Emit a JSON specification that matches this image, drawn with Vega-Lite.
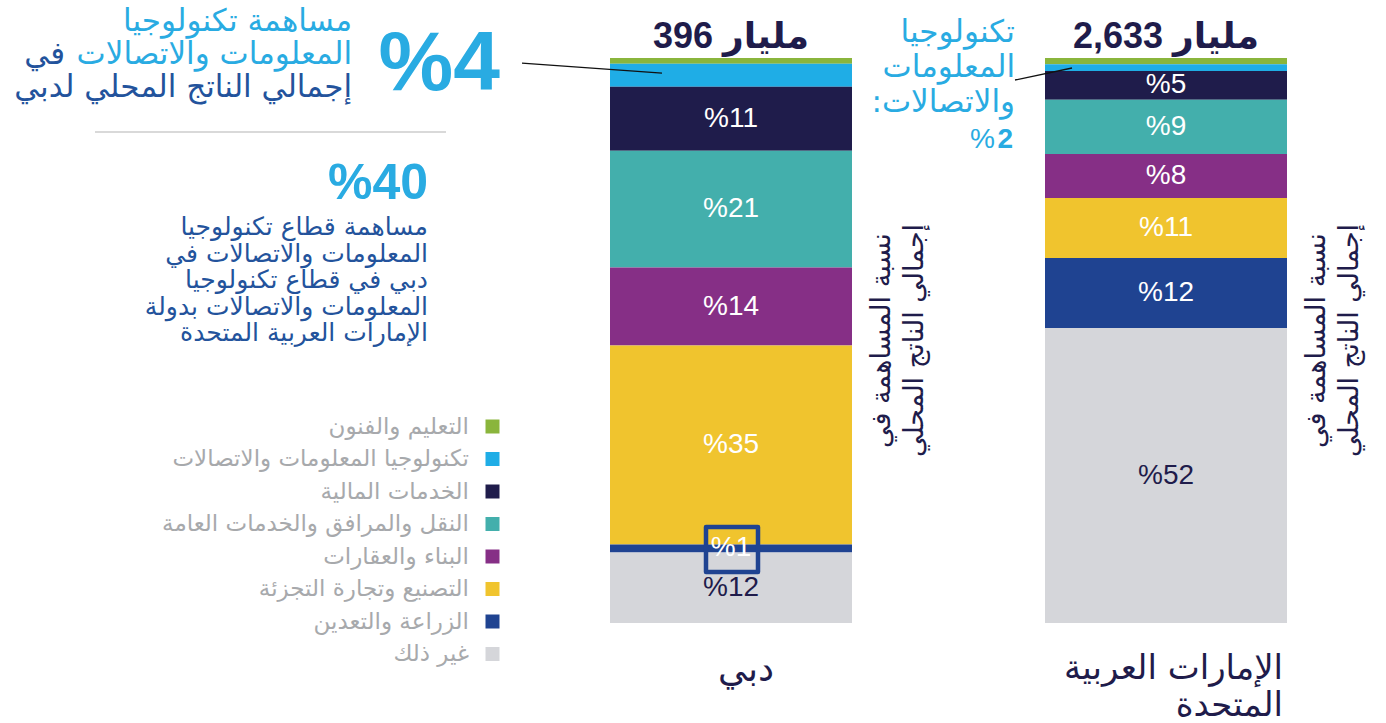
{
  "$schema": "https://vega.github.io/schema/vega-lite/v6.json",
  "width": 677,
  "height": 565,
  "autosize": {"type": "none"},
  "padding": {"left": 610, "top": 58, "right": 99, "bottom": 100},
  "background": "white",
  "config": {"view": {"stroke": null}},
  "datasets": {
    "gdp": [
      {"region": "دبي", "sector": "التعليم والفنون", "share": 1.0, "label": ""},
      {"region": "دبي", "sector": "تكنولوجيا المعلومات والاتصالات", "share": 4.1, "label": "%4"},
      {"region": "دبي", "sector": "الخدمات المالية", "share": 11.3, "label": "%11"},
      {"region": "دبي", "sector": "النقل والمرافق والخدمات العامة", "share": 20.7, "label": "%21"},
      {"region": "دبي", "sector": "البناء والعقارات", "share": 13.8, "label": "%14"},
      {"region": "دبي", "sector": "التصنيع وتجارة التجزئة", "share": 35.2, "label": "%35"},
      {"region": "دبي", "sector": "الزراعة والتعدين", "share": 1.4, "label": "%1"},
      {"region": "دبي", "sector": "غير ذلك", "share": 12.5, "label": "%12"},
      {"region": "الإمارات العربية المتحدة", "sector": "التعليم والفنون", "share": 1.1, "label": ""},
      {"region": "الإمارات العربية المتحدة", "sector": "تكنولوجيا المعلومات والاتصالات", "share": 1.2, "label": "%2"},
      {"region": "الإمارات العربية المتحدة", "sector": "الخدمات المالية", "share": 5.1, "label": "%5"},
      {"region": "الإمارات العربية المتحدة", "sector": "النقل والمرافق والخدمات العامة", "share": 9.6, "label": "%9"},
      {"region": "الإمارات العربية المتحدة", "sector": "البناء والعقارات", "share": 7.8, "label": "%8"},
      {"region": "الإمارات العربية المتحدة", "sector": "التصنيع وتجارة التجزئة", "share": 10.6, "label": "%11"},
      {"region": "الإمارات العربية المتحدة", "sector": "الزراعة والتعدين", "share": 12.4, "label": "%12"},
      {"region": "الإمارات العربية المتحدة", "sector": "غير ذلك", "share": 52.2, "label": "%52"}
    ],
    "regions": [
      {"region": "دبي", "gdp_bn": 396},
      {"region": "الإمارات العربية المتحدة", "gdp_bn": 2633}
    ],
    "notes": [
      {"id": "ict_dubai_light", "text": "مساهمة تكنولوجيا\nالمعلومات والاتصالات"},
      {"id": "ict_dubai_in", "text": "في"},
      {"id": "ict_dubai_dark", "text": "إجمالي الناتج المحلي لدبي"},
      {"id": "share40_value", "text": "%40"},
      {"id": "share40_text", "text": "مساهمة قطاع تكنولوجيا\nالمعلومات والاتصالات في\nدبي في قطاع تكنولوجيا\nالمعلومات والاتصالات بدولة\nالإمارات العربية المتحدة"},
      {"id": "ict_uae", "text": "تكنولوجيا\nالمعلومات\n\u2067والاتصالات:\u2069"},
      {"id": "divider", "text": ""}
    ]
  },
  "layer": [
    {
      "data": {"name": "gdp"},
      "transform": [
        {"calculate": "indexof(['التعليم والفنون','تكنولوجيا المعلومات والاتصالات','الخدمات المالية','النقل والمرافق والخدمات العامة','البناء والعقارات','التصنيع وتجارة التجزئة','الزراعة والتعدين','غير ذلك'], datum.sector)", "as": "rank"},
        {"stack": "share", "groupby": ["region"], "sort": [{"field": "rank", "order": "ascending"}], "as": ["y0", "y1"]}
      ],
      "mark": {"type": "bar"},
      "encoding": {
        "x": {
          "field": "region", "type": "nominal", "sort": null,
          "scale": {"domain": ["دبي", "الإمارات العربية المتحدة"], "paddingInner": 0.4437, "paddingOuter": 0},
          "axis": null
        },
        "y": {"field": "y0", "type": "quantitative", "scale": {"domain": [0, 100], "reverse": true, "nice": false, "zero": false}, "axis": null},
        "y2": {"field": "y1"},
        "color": {
          "field": "sector", "type": "nominal",
          "scale": {
            "domain": ["التعليم والفنون", "تكنولوجيا المعلومات والاتصالات", "الخدمات المالية", "النقل والمرافق والخدمات العامة", "البناء والعقارات", "التصنيع وتجارة التجزئة", "الزراعة والتعدين", "غير ذلك"],
            "range": ["#8ab53c", "#1fade6", "#1f1c4b", "#43afac", "#862f86", "#f0c42e", "#1f4391", "#d5d6da"]
          },
          "legend": {
            "orient": "none", "legendX": -129, "legendY": 357, "title": null,
            "symbolType": "square", "symbolSize": 196, "symbolStrokeWidth": 0, "symbolOpacity": 1,
            "labelFont": "DejaVu Sans", "labelFontSize": 23, "labelColor": "#a7a9ac",
            "labelAlign": "right", "labelBaseline": "middle", "labelOffset": -35, "labelLimit": 500,
            "rowPadding": 8.5, "padding": 0, "offset": 0
          }
        }
      }
    },
    {
      "data": {"name": "gdp"},
      "transform": [
        {"calculate": "indexof(['التعليم والفنون','تكنولوجيا المعلومات والاتصالات','الخدمات المالية','النقل والمرافق والخدمات العامة','البناء والعقارات','التصنيع وتجارة التجزئة','الزراعة والتعدين','غير ذلك'], datum.sector)", "as": "rank"},
        {"stack": "share", "groupby": ["region"], "sort": [{"field": "rank", "order": "ascending"}], "as": ["y0", "y1"]},
        {"calculate": "(datum.y0 + datum.y1) / 2", "as": "ymid"},
        {"filter": "datum.region === 'دبي' && datum.sector === 'الزراعة والتعدين'"}
      ],
      "mark": {"type": "point", "shape": "M-25,-21.4H27V23.6H-25Z", "size": 4, "filled": false, "color": "#1f4391", "strokeWidth": 4.5, "strokeJoin": "round", "opacity": 1},
      "encoding": {
        "x": {"field": "region", "type": "nominal", "axis": null},
        "y": {"field": "ymid", "type": "quantitative", "axis": null}
      }
    },
    {
      "data": {"name": "gdp"},
      "transform": [
        {"calculate": "indexof(['التعليم والفنون','تكنولوجيا المعلومات والاتصالات','الخدمات المالية','النقل والمرافق والخدمات العامة','البناء والعقارات','التصنيع وتجارة التجزئة','الزراعة والتعدين','غير ذلك'], datum.sector)", "as": "rank"},
        {"stack": "share", "groupby": ["region"], "sort": [{"field": "rank", "order": "ascending"}], "as": ["y0", "y1"]},
        {"calculate": "(datum.y0 + datum.y1) / 2", "as": "ymid"},
        {"filter": "datum.label !== '' && datum.sector !== 'تكنولوجيا المعلومات والاتصالات'"}
      ],
      "mark": {"type": "text", "font": "Liberation Sans", "fontSize": 28, "align": "center", "baseline": "middle"},
      "encoding": {
        "x": {"field": "region", "type": "nominal", "axis": null},
        "y": {"field": "ymid", "type": "quantitative", "axis": null},
        "text": {"field": "label", "type": "nominal"},
        "color": {"condition": {"test": "datum.sector === 'غير ذلك'", "value": "#1f1c4b"}, "value": "#ffffff"}
      }
    },
    {
      "data": {"name": "gdp"},
      "transform": [
        {"calculate": "indexof(['التعليم والفنون','تكنولوجيا المعلومات والاتصالات','الخدمات المالية','النقل والمرافق والخدمات العامة','البناء والعقارات','التصنيع وتجارة التجزئة','الزراعة والتعدين','غير ذلك'], datum.sector)", "as": "rank"},
        {"stack": "share", "groupby": ["region"], "sort": [{"field": "rank", "order": "ascending"}], "as": ["y0", "y1"]},
        {"calculate": "(datum.y0 + datum.y1) / 2", "as": "ymid"},
        {"filter": "datum.region === 'دبي' && datum.sector === 'تكنولوجيا المعلومات والاتصالات'"}
      ],
      "layer": [
        {
          "mark": {"type": "point", "shape": "M-209,-12.2L-69,-2.2", "size": 4, "filled": false, "color": "#111111", "strokeWidth": 1.3, "opacity": 1}
        },
        {
          "mark": {"type": "text", "font": "Liberation Sans", "fontWeight": "bold", "fontSize": 84, "align": "right", "baseline": "alphabetic", "dx": -231, "dy": 15, "color": "#29abe2"},
          "encoding": {"text": {"field": "label", "type": "nominal"}}
        }
      ],
      "encoding": {
        "x": {"field": "region", "type": "nominal", "axis": null},
        "y": {"field": "ymid", "type": "quantitative", "axis": null}
      }
    },
    {
      "data": {"name": "gdp"},
      "transform": [
        {"calculate": "indexof(['التعليم والفنون','تكنولوجيا المعلومات والاتصالات','الخدمات المالية','النقل والمرافق والخدمات العامة','البناء والعقارات','التصنيع وتجارة التجزئة','الزراعة والتعدين','غير ذلك'], datum.sector)", "as": "rank"},
        {"stack": "share", "groupby": ["region"], "sort": [{"field": "rank", "order": "ascending"}], "as": ["y0", "y1"]},
        {"calculate": "(datum.y0 + datum.y1) / 2", "as": "ymid"},
        {"calculate": "replace(datum.label, '%', '')", "as": "num"},
        {"filter": "datum.region !== 'دبي' && datum.sector === 'تكنولوجيا المعلومات والاتصالات'"}
      ],
      "layer": [
        {
          "mark": {"type": "point", "shape": "M-151,12.4L-94,0.4", "size": 4, "filled": false, "color": "#111111", "strokeWidth": 1.3, "opacity": 1}
        },
        {
          "mark": {"type": "text", "font": "Liberation Sans", "fontWeight": "bold", "fontSize": 28, "align": "right", "baseline": "alphabetic", "dx": -153, "dy": 80, "color": "#29abe2"},
          "encoding": {"text": {"field": "num", "type": "nominal"}}
        },
        {
          "mark": {"type": "text", "text": "%", "font": "Liberation Sans", "fontSize": 28, "align": "right", "baseline": "alphabetic", "dx": -171, "dy": 80, "color": "#29abe2"}
        }
      ],
      "encoding": {
        "x": {"field": "region", "type": "nominal", "axis": null},
        "y": {"field": "ymid", "type": "quantitative", "axis": null}
      }
    },
    {
      "data": {"name": "notes"},
      "transform": [{"filter": "datum.id === 'ict_dubai_light'"}],
      "mark": {"type": "text", "font": "DejaVu Sans", "fontSize": 31, "align": "right", "baseline": "middle", "lineBreak": "\n", "lineHeight": 33, "dx": -379, "dy": -36, "color": "#29abe2"},
      "encoding": {
        "x": {"datum": "دبي", "type": "nominal", "axis": null},
        "y": {"datum": 0, "type": "quantitative", "axis": null},
        "text": {"field": "text", "type": "nominal"}
      }
    },
    {
      "data": {"name": "notes"},
      "transform": [{"filter": "datum.id === 'ict_dubai_in'"}],
      "mark": {"type": "text", "font": "DejaVu Sans", "fontSize": 31, "align": "right", "baseline": "middle", "dx": -666, "dy": -3, "color": "#23539c"},
      "encoding": {
        "x": {"datum": "دبي", "type": "nominal", "axis": null},
        "y": {"datum": 0, "type": "quantitative", "axis": null},
        "text": {"field": "text", "type": "nominal"}
      }
    },
    {
      "data": {"name": "notes"},
      "transform": [{"filter": "datum.id === 'ict_dubai_dark'"}],
      "mark": {"type": "text", "font": "DejaVu Sans", "fontSize": 31, "align": "right", "baseline": "middle", "dx": -379, "dy": 30, "color": "#23539c"},
      "encoding": {
        "x": {"datum": "دبي", "type": "nominal", "axis": null},
        "y": {"datum": 0, "type": "quantitative", "axis": null},
        "text": {"field": "text", "type": "nominal"}
      }
    },
    {
      "data": {"name": "notes"},
      "transform": [{"filter": "datum.id === 'divider'"}],
      "mark": {"type": "point", "shape": "M-636,74H-285", "size": 4, "filled": false, "color": "#d9d9d9", "strokeWidth": 2, "opacity": 1},
      "encoding": {
        "x": {"datum": "دبي", "type": "nominal", "axis": null},
        "y": {"datum": 0, "type": "quantitative", "axis": null}
      }
    },
    {
      "data": {"name": "notes"},
      "transform": [{"filter": "datum.id === 'share40_value'"}],
      "mark": {"type": "text", "font": "Liberation Sans", "fontWeight": "bold", "fontSize": 50, "align": "right", "baseline": "alphabetic", "dx": -303, "dy": 141, "color": "#29abe2"},
      "encoding": {
        "x": {"datum": "دبي", "type": "nominal", "axis": null},
        "y": {"datum": 0, "type": "quantitative", "axis": null},
        "text": {"field": "text", "type": "nominal"}
      }
    },
    {
      "data": {"name": "notes"},
      "transform": [{"filter": "datum.id === 'share40_text'"}],
      "mark": {"type": "text", "font": "DejaVu Sans", "fontSize": 25, "align": "right", "baseline": "middle", "lineBreak": "\n", "lineHeight": 26.5, "dx": -303, "dy": 169, "color": "#23539c"},
      "encoding": {
        "x": {"datum": "دبي", "type": "nominal", "axis": null},
        "y": {"datum": 0, "type": "quantitative", "axis": null},
        "text": {"field": "text", "type": "nominal"}
      }
    },
    {
      "data": {"name": "notes"},
      "transform": [{"filter": "datum.id === 'ict_uae'"}],
      "mark": {"type": "text", "font": "DejaVu Sans", "fontSize": 31, "align": "right", "baseline": "middle", "lineBreak": "\n", "lineHeight": 35, "dx": -151, "dy": -25, "color": "#29abe2"},
      "encoding": {
        "x": {"datum": "الإمارات العربية المتحدة", "type": "nominal", "axis": null},
        "y": {"datum": 0, "type": "quantitative", "axis": null},
        "text": {"field": "text", "type": "nominal"}
      }
    },
    {
      "data": {"name": "regions"},
      "transform": [{"calculate": "'\u2066' + format(datum.gdp_bn, ',') + ' مليار' + '\u2069'", "as": "total"}],
      "mark": {"type": "text", "font": "Liberation Sans, DejaVu Sans", "fontWeight": "bold", "fontSize": 36, "align": "center", "baseline": "alphabetic", "dy": -10, "color": "#1f1c4b"},
      "encoding": {
        "x": {"field": "region", "type": "nominal", "axis": null},
        "y": {"datum": 0, "type": "quantitative", "axis": null},
        "text": {"field": "total", "type": "nominal"}
      }
    },
    {
      "data": {"name": "regions"},
      "mark": {"type": "text", "text": "نسبة المساهمة في\nإجمالي الناتج المحلي", "lineBreak": "\n", "lineHeight": 33, "font": "DejaVu Sans", "fontSize": 27, "angle": 270, "align": "center", "baseline": "top", "dy": 17, "color": "#1f1c4b"},
      "encoding": {
        "x": {"field": "region", "type": "nominal", "bandPosition": 1, "axis": null}
      }
    },
    {
      "data": {"name": "regions"},
      "transform": [{"filter": "datum.region === 'دبي'"}],
      "mark": {"type": "text", "font": "DejaVu Sans", "fontSize": 36, "align": "center", "baseline": "alphabetic", "dx": 15, "dy": 58, "color": "#1f1c4b"},
      "encoding": {
        "x": {"field": "region", "type": "nominal", "axis": null},
        "y": {"datum": 100, "type": "quantitative", "axis": null},
        "text": {"field": "region", "type": "nominal"}
      }
    },
    {
      "data": {"name": "regions"},
      "transform": [
        {"filter": "datum.region !== 'دبي'"},
        {"calculate": "substring(datum.region, 0, lastindexof(datum.region, ' ')) + '\\n' + substring(datum.region, lastindexof(datum.region, ' ') + 1)", "as": "name"}
      ],
      "mark": {"type": "text", "font": "DejaVu Sans", "fontSize": 34, "align": "right", "baseline": "alphabetic", "lineBreak": "\n", "lineHeight": 37, "dx": -4, "dy": 56, "color": "#1f1c4b"},
      "encoding": {
        "x": {"field": "region", "type": "nominal", "bandPosition": 1, "axis": null},
        "y": {"datum": 100, "type": "quantitative", "axis": null},
        "text": {"field": "name", "type": "nominal"}
      }
    }
  ]
}
